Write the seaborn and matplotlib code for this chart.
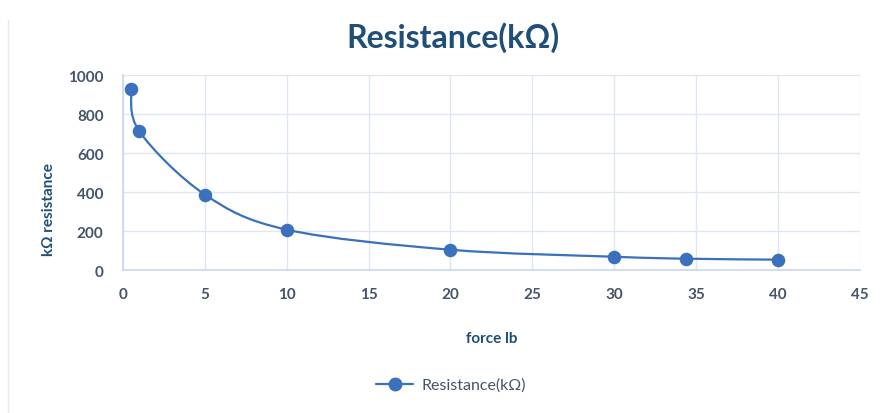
import matplotlib
matplotlib.use("Agg")
import matplotlib.pyplot as plt
import seaborn as sns
import numpy as np
import pandas as pd
from matplotlib.path import Path
from matplotlib.patches import PathPatch
from matplotlib.lines import Line2D

force_lb = [0.5, 1, 5, 10, 20, 30, 34.4, 40]
resistance_kohm = [928, 711, 387, 207, 104, 68, 58, 53]
x_ticks = [0, 5, 10, 15, 20, 25, 30, 35, 40, 45]
y_ticks = [0, 200, 400, 600, 800, 1000]
title = "Resistance(kΩ)"
x_label = "force lb"
y_label = "kΩ resistance"
series_name = "Resistance(kΩ)"

df = pd.DataFrame({"force": force_lb, "res": resistance_kohm})

sns.set_theme(style="white")
plt.rcParams["font.family"] = ["Lato", "DejaVu Sans"]

line_c = "#3A70BC"
grid_c = "#DCE6F4"
tick_c = "#44546A"
title_c = "#1F4E79"

fig = plt.figure(figsize=(8.88, 4.14), dpi=100)
ax = fig.add_axes([0.1385, 0.3454, 0.8295, 0.471])

# smooth (Excel-like) line through data points via Bezier path
xs = np.asarray(df["force"], float)
ys = np.asarray(df["res"], float)
verts = [(xs[0], ys[0])]
codes = [Path.MOVETO]
n = len(xs)
for i in range(n - 1):
    p0 = np.array([xs[max(i - 1, 0)], ys[max(i - 1, 0)]])
    p1 = np.array([xs[i], ys[i]])
    p2 = np.array([xs[i + 1], ys[i + 1]])
    p3 = np.array([xs[min(i + 2, n - 1)], ys[min(i + 2, n - 1)]])
    c1 = p1 + (p2 - p0) / 6.0
    c2 = p2 - (p3 - p1) / 6.0
    verts += [tuple(c1), tuple(c2), tuple(p2)]
    codes += [Path.CURVE4] * 3
ax.add_patch(PathPatch(Path(verts, codes), fill=False, edgecolor=line_c, lw=1.6, zorder=3))

sns.scatterplot(data=df, x="force", y="res", ax=ax, s=95, color=line_c,
                edgecolor=line_c, linewidth=0, zorder=4, legend=False)

ax.set_xlim(0, 45)
ax.set_ylim(0, 1000)
ax.set_xticks(x_ticks)
ax.set_yticks(y_ticks)
ax.grid(True, color=grid_c, lw=1.0)
ax.set_axisbelow(True)
for s in ["top", "right"]:
    ax.spines[s].set_visible(False)
for s in ["left", "bottom"]:
    ax.spines[s].set_color("#C9D8EE")
    ax.spines[s].set_linewidth(1.2)
ax.tick_params(axis="both", colors=tick_c, labelsize=11, length=0, pad=12)
ax.tick_params(axis="y", pad=14)
for lab in ax.get_xticklabels() + ax.get_yticklabels():
    lab.set_fontweight("bold")

ax.set_xlabel(x_label, fontsize=11, fontweight="bold", color=title_c, labelpad=22)
ax.set_ylabel(y_label, fontsize=11, fontweight="bold", color=title_c)
ax.yaxis.set_label_coords(-0.091, 0.314)

fig.text(0.51, 0.908, title, ha="center", va="center", fontsize=23,
         fontweight="bold", color=title_c)

handle = Line2D([], [], color=line_c, lw=1.6, marker="o", markersize=9)
fig.legend([handle], [series_name], loc="center", bbox_to_anchor=(0.508, 0.0676),
           frameon=False, fontsize=11.5, handlelength=2.3, handletextpad=0.5,
           labelcolor=tick_c)

fig.add_artist(Line2D([0.009, 0.009], [0.0, 0.95], color="#E8E8E8", lw=1.0,
                      transform=fig.transFigure))

fig.savefig("out.png", dpi=100)
